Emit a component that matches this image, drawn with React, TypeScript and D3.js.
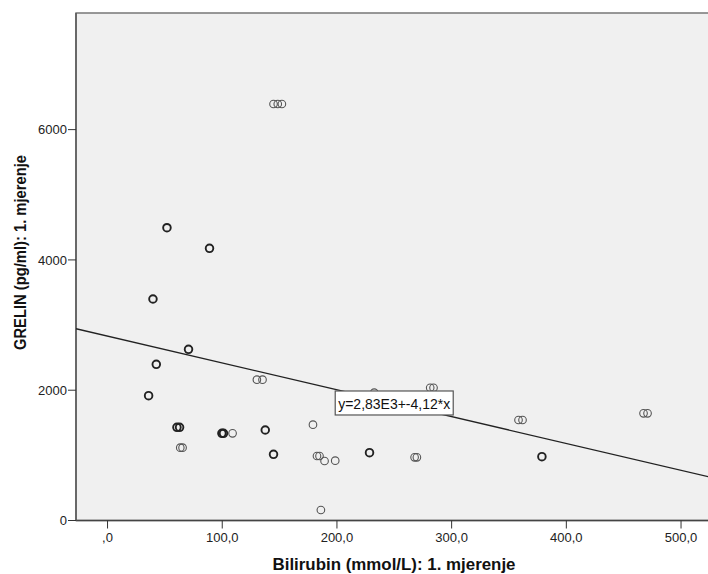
import React, { useEffect } from "react";
import * as d3 from "d3";

const xTicks = [0, 100, 200, 300, 400, 500];
const yTicks = [0, 2000, 4000, 6000];

// Bilirubin (x) and GRELIN (y); repeated entries = overlapping identical cases
const bilirubin = [
  51.8, 51.8, 88.9, 88.9, 39.6, 39.6, 70.6, 70.6, 42.5, 42.5, 42.5, 35.8, 35.8,
  60.5, 60.5, 62.8, 62.8, 63.4, 65.4, 99.7, 99.7, 101.1, 101.1, 109.0,
  130.2, 135.1, 137.5, 137.5, 144.7, 144.7, 179.1, 182.6, 184.8, 189.2, 198.5,
  186.0, 232.5, 228.4, 228.4, 281.3, 284.2, 267.7, 269.7, 358.3, 361.8,
  378.7, 378.7, 467.3, 470.8, 144.7, 148.4, 152.0,
];
const grelin = [
  4494, 4494, 4178, 4178, 3400, 3400, 2628, 2628, 2397, 2397, 2397, 1916, 1916,
  1430, 1430, 1430, 1430, 1118, 1118, 1338, 1338, 1338, 1338, 1338,
  2162, 2162, 1389, 1389, 1016, 1016, 1471, 990, 990, 913, 918,
  161, 1962, 1041, 1041, 2038, 2038, 970, 970, 1543, 1543,
  980, 980, 1645, 1645, 6393, 6393, 6393,
];

const intercept = 2830;
const slope = -4.12;
const equationLabel = "y=2,83E3+-4,12*x";
const xTitle = "Bilirubin (mmol/L): 1. mjerenje";
const yTitle = "GRELIN (pg/ml): 1. mjerenje";

const W = 708;
const H = 574;
const left = 76;
const right = 712;
const top = 13;
const bottom = 520.5;

export default function App() {
  useEffect(() => {
    document.body.style.margin = "0";
  }, []);

  const x = d3.scaleLinear().domain([-27.5, 527]).range([left, right]);
  const y = d3.scaleLinear().domain([0, 7790]).range([bottom, top]);

  const counts = new Map<string, number>();
  bilirubin.forEach((b, i) => {
    const k = b + "_" + grelin[i];
    counts.set(k, (counts.get(k) || 0) + 1);
  });
  const pts = Array.from(counts.entries()).map(([k, c]) => {
    const [a, b] = k.split("_").map(Number);
    return { bx: a, gy: b, c };
  });

  const fmtX = (v: number) => (v === 0 ? ",0" : d3.format(".1f")(v).replace(".", ","));
  const [x0, x1] = x.domain();
  const font = "'Liberation Sans', Arial, sans-serif";

  const lx = x(198.5);
  const ly = y(1988);

  return (
    <svg width={W} height={H} style={{ display: "block", fontFamily: font }}>
      <rect x={0} y={0} width={W} height={H} fill="#ffffff" />
      <clipPath id="plot">
        <rect x={left} y={top} width={right - left} height={bottom - top} />
      </clipPath>
      <rect x={left} y={top} width={right - left} height={bottom - top} fill="#f0f0f0" stroke="#6e6e6e" strokeWidth={1.4} />
      <line x1={left} x2={right} y1={bottom} y2={bottom} stroke="#444" strokeWidth={1.4} />
      <line x1={left} x2={left} y1={top} y2={bottom} stroke="#555" strokeWidth={1.4} />

      {yTicks.map((t) => (
        <g key={"y" + t}>
          <line x1={left - 8} x2={left} y1={y(t)} y2={y(t)} stroke="#333" strokeWidth={1} />
          <text x={left - 9} y={y(t)} dy="0.36em" textAnchor="end" fontSize={13} fill="#222">
            {t}
          </text>
        </g>
      ))}
      {xTicks.map((t) => (
        <g key={"x" + t}>
          <line x1={x(t)} x2={x(t)} y1={bottom} y2={bottom + 8} stroke="#333" strokeWidth={1} />
          <text x={x(t)} y={bottom + 21} textAnchor="middle" fontSize={13} fill="#222">
            {fmtX(t)}
          </text>
        </g>
      ))}

      <g clipPath="url(#plot)">
        {pts.map((p, i) => (
          <circle
            key={i}
            cx={x(p.bx)}
            cy={y(p.gy)}
            r={3.8}
            fill="none"
            stroke={p.c > 1 ? "#222" : "#555"}
            strokeWidth={p.c > 1 ? 1.9 : 1.1}
          />
        ))}
        <line
          x1={x(x0)}
          y1={y(intercept + slope * x0)}
          x2={x(x1)}
          y2={y(intercept + slope * x1)}
          stroke="#222"
          strokeWidth={1.4}
        />
      </g>

      <rect x={lx} y={ly} width={118} height={24} fill="#ffffff" stroke="#555" strokeWidth={1.2} />
      <text
        x={lx + 59}
        y={ly + 18}
        textAnchor="middle"
        fontSize={14}
        fill="#111"
        textLength={112}
        lengthAdjust="spacingAndGlyphs"
      >
        {equationLabel}
      </text>

      <text
        x={394}
        y={570}
        textAnchor="middle"
        fontSize={16.5}
        fontWeight="bold"
        fill="#111"
        textLength={243}
        lengthAdjust="spacingAndGlyphs"
      >
        {xTitle}
      </text>
      <text
        transform={`translate(26, 252.5) rotate(-90)`}
        textAnchor="middle"
        fontSize={16.5}
        fontWeight="bold"
        fill="#111"
        textLength={195}
        lengthAdjust="spacingAndGlyphs"
      >
        {yTitle}
      </text>
    </svg>
  );
}
